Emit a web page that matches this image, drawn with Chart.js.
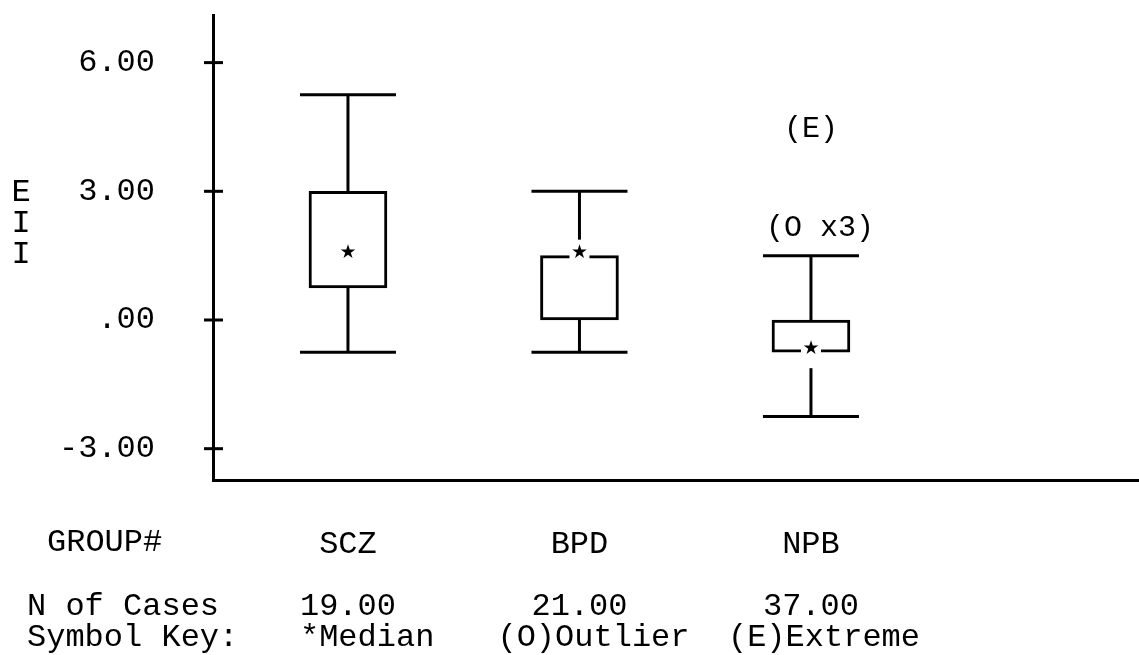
<!DOCTYPE html>
<html>
<head>
<meta charset="utf-8">
<script src="https://cdn.jsdelivr.net/npm/chart.js@4.4.1/dist/chart.umd.min.js"></script>
<style>
  html, body { margin: 0; padding: 0; background: #fff; }
</style>
</head>
<body>
<canvas id="boxChart" width="1139" height="655"></canvas>
<script>
// values
const groups = ['SCZ', 'BPD', 'NPB'];
const caseCounts = ['19.00', '21.00', '37.00'];
const lowWhisker = [-0.75, -0.75, -2.25];
const q1 = [0.75, 0.0, -0.75];
const medians = [1.5, 1.5, -0.75];
const q3 = [3.0, 1.5, 0.0];
const highWhisker = [5.25, 3.0, 1.5];
// outliers / extremes are printed as text marks
const markGroup = [2, 2];
const markValue = [2.15, 4.45];
const markText = ['(O x3)', '(E)'];
const yTicks = [-3, 0, 3, 6];
const yTickLabels = ['-3.00', '.00', '3.00', '6.00'];
const yTitle = ['E', 'I', 'I'];
const keyLabels = ['*Median', '(O)Outlier', '(E)Extreme'];

const mono = 'Liberation Mono, DejaVu Sans Mono, monospace';

const boxExtras = {
  id: 'boxExtras',
  afterDatasetsDraw(chart) {
    const { ctx, chartArea, scales: { x, y } } = chart;
    const line = (x1, y1, x2, y2) => {
      ctx.beginPath();
      ctx.moveTo(x1, y1);
      ctx.lineTo(x2, y2);
      ctx.stroke();
    };
    ctx.save();
    ctx.strokeStyle = '#000';
    ctx.lineWidth = 3;

    // tick marks crossing the y axis
    yTicks.forEach(v => {
      const py = y.getPixelForValue(v);
      line(chartArea.left - 9, py, chartArea.left + 10, py);
    });

    groups.forEach((g, i) => {
      const px = x.getPixelForValue(i + 1);
      const hi = y.getPixelForValue(highWhisker[i]);
      const lo = y.getPixelForValue(lowWhisker[i]);
      line(px, y.getPixelForValue(q3[i]), px, hi);
      line(px - 48, hi, px + 48, hi);
      line(px, y.getPixelForValue(q1[i]), px, lo);
      line(px - 48, lo, px + 48, lo);
    });

    // median stars, blanking the lines under them like the printout
    groups.forEach((g, i) => {
      const px = x.getPixelForValue(i + 1);
      const pm = y.getPixelForValue(medians[i]);
      ctx.fillStyle = '#fff';
      ctx.fillRect(px - 10, pm - 16, 20, 32);
      ctx.fillStyle = '#000';
      ctx.font = '19px DejaVu Sans';
      ctx.textAlign = 'center';
      ctx.textBaseline = 'middle';
      ctx.fillText('\u2605', px, pm - 3);
    });

    ctx.fillStyle = '#000';
    ctx.font = '30px ' + mono;
    ctx.textAlign = 'center';
    ctx.textBaseline = 'middle';
    markText.forEach((t, k) => {
      const px = x.getPixelForValue(markGroup[k] + 1);
      ctx.fillText(t, px + (t.length > 3 ? 9 : 0), y.getPixelForValue(markValue[k]));
    });

    // axis title, one letter per line
    ctx.font = '32px ' + mono;
    yTitle.forEach((c, k) => ctx.fillText(c, 21, 193 + k * 31));

    // table under the plot
    ctx.textAlign = 'left';
    ctx.fillText('GROUP#', 47, 543);
    ctx.fillText('N of Cases', 27, 607);
    ctx.fillText('Symbol Key:', 27, 638);
    const keyShift = [-48, -82, -83];
    groups.forEach((g, i) => {
      const px = x.getPixelForValue(i + 1);
      ctx.textAlign = 'center';
      ctx.fillText(caseCounts[i], px, 607);
      ctx.textAlign = 'left';
      ctx.fillText(keyLabels[i], px + keyShift[i], 638);
    });
    ctx.restore();
  }
};

const ctx = document.getElementById('boxChart').getContext('2d');
new Chart(ctx, {
  type: 'bar',
  data: {
    datasets: [{
      data: groups.map((g, i) => ({ x: i + 1, y: [q1[i], q3[i]] })),
      backgroundColor: '#fff',
      borderColor: '#000',
      borderWidth: 3,
      borderSkipped: false,
      barThickness: 78
    }]
  },
  options: {
    responsive: false,
    devicePixelRatio: 1,
    animation: false,
    layout: { padding: { top: 15, left: 0, right: 0, bottom: 0 } },
    plugins: { legend: { display: false }, tooltip: { enabled: false } },
    scales: {
      x: {
        type: 'linear',
        offset: false,
        min: 0.417,
        max: 4.417,
        grid: { display: false, offset: false },
        border: { display: true, color: '#000', width: 3 },
        afterBuildTicks: s => { s.ticks = groups.map((g, i) => ({ value: i + 1 })); },
        afterFit: s => { s.height = 175; s.paddingLeft = 0; s.paddingRight = 0; },
        ticks: {
          color: '#000',
          font: { family: mono, size: 32 },
          padding: 37,
          maxRotation: 0,
          autoSkip: false,
          callback: v => groups[v - 1]
        }
      },
      y: {
        min: -3.73,
        max: 7.11,
        grid: { display: false },
        border: { display: true, color: '#000', width: 3 },
        afterBuildTicks: s => { s.ticks = yTicks.map(v => ({ value: v })); },
        afterFit: s => { s.width = 213; s.paddingTop = 0; s.paddingBottom = 0; },
        ticks: {
          color: '#000',
          font: { family: mono, size: 32 },
          padding: 50,
          callback: v => yTickLabels[yTicks.indexOf(v)]
        }
      }
    }
  },
  plugins: [boxExtras]
});
</script>
</body>
</html>
